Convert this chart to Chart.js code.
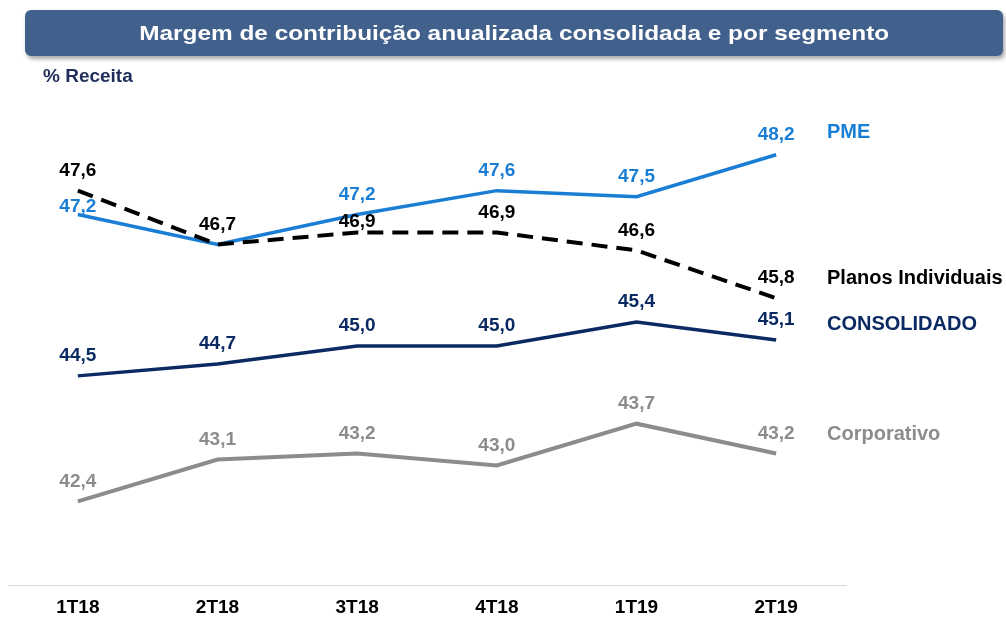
<!DOCTYPE html>
<html><head><meta charset="utf-8">
<script src="https://cdn.jsdelivr.net/npm/chart.js@4/dist/chart.umd.min.js"></script>
<style>
html,body{margin:0;padding:0;background:#fff;}
body{width:1006px;height:617px;position:relative;overflow:hidden;font-family:"Liberation Sans",Arial,sans-serif;}
#wrap{position:absolute;left:0;top:0;width:1006px;height:617px;z-index:1;}
#title{position:absolute;left:25px;top:10px;width:978px;height:46px;background:#41618C;border-radius:6px;box-shadow:2px 3px 4px rgba(0,0,0,0.35);color:#fff;font-weight:bold;font-size:21px;line-height:46px;text-align:center;z-index:2;}
#title span{display:inline-block;transform:scaleX(1.16);}
#unit{position:absolute;left:43px;top:65px;color:#1F2D5A;font-weight:bold;font-size:19px;z-index:2;}
</style>
</head><body>
<div id="title"><span>Margem de contribuição anualizada consolidada e por segmento</span></div>
<div id="unit">% Receita</div>
<div id="wrap"><canvas id="c" width="1006" height="617"></canvas></div>
<script>
const categories = ['1T18','2T18','3T18','4T18','1T19','2T19'];
const pme = [47.2, 46.7, 47.2, 47.6, 47.5, 48.2];
const planosIndividuais = [47.6, 46.7, 46.9, 46.9, 46.6, 45.8];
const consolidado = [44.5, 44.7, 45.0, 45.0, 45.4, 45.1];
const corporativo = [42.4, 43.1, 43.2, 43.0, 43.7, 43.2];
const seriesNames = ['Planos Individuais', 'PME', 'CONSOLIDADO', 'Corporativo'];

const FONT = '"Liberation Sans", Arial, sans-serif';

const labelPlugin = {
  id: 'labels',
  afterDatasetsDraw(chart) {
    const ctx = chart.ctx;
    ctx.save();
    ctx.textBaseline = 'middle';
    chart.data.datasets.forEach((ds, i) => {
      const meta = chart.getDatasetMeta(i);
      ctx.fillStyle = ds.labelColor;
      ctx.font = 'bold 19px ' + FONT;
      ctx.textAlign = 'center';
      meta.data.forEach((pt, j) => {
        if (ds.hideLabels && ds.hideLabels.includes(j)) return;
        const dy = (ds.labelDy && ds.labelDy[j] !== undefined) ? ds.labelDy[j] : -20;
        ctx.fillText(ds.data[j].toFixed(1).replace('.', ','), pt.x, pt.y + dy);
      });
      const last = meta.data[meta.data.length - 1];
      ctx.textAlign = 'left';
      ctx.font = 'bold 20px ' + FONT;
      ctx.fillText(ds.label, 827, last.y + ds.nameDy);
    });
    ctx.restore();
  }
};

new Chart(document.getElementById('c'), {
  type: 'line',
  data: {
    labels: categories,
    datasets: [
      { label: seriesNames[0], data: planosIndividuais, borderColor: '#000000', labelColor: '#000000',
        borderDash: [16, 9], borderWidth: 4, labelDy: {2: -11}, nameDy: -20 },
      { label: seriesNames[1], data: pme, borderColor: '#1A7FD4', labelColor: '#1A7FD4',
        borderWidth: 3.5, hideLabels: [1], labelDy: {0: -8}, nameDy: -22 },
      { label: seriesNames[2], data: consolidado, borderColor: '#0B2A63', labelColor: '#0B2A63',
        borderWidth: 3.5, nameDy: -16 },
      { label: seriesNames[3], data: corporativo, borderColor: '#8C8C8C', labelColor: '#8C8C8C',
        borderWidth: 4, nameDy: -19 }
    ]
  },
  options: {
    responsive: false,
    animation: false,
    layout: { padding: { left: 8, right: 160, top: 107, bottom: 0 } },
    elements: { point: { radius: 0 }, line: { tension: 0, borderCapStyle: 'butt', borderJoinStyle: 'miter', fill: false } },
    plugins: { legend: { display: false }, tooltip: { enabled: false } },
    scales: {
      x: {
        offset: true,
        grid: { display: false, drawTicks: false },
        border: { display: true, color: '#D9D9D9', width: 1 },
        ticks: { color: '#000', padding: 11, font: { family: FONT, size: 19, weight: 'bold' } },
        afterFit(scale) { scale.height = 32; }
      },
      y: { display: false, min: 41, max: 49 }
    }
  },
  plugins: [labelPlugin]
});
</script>
</body></html>
